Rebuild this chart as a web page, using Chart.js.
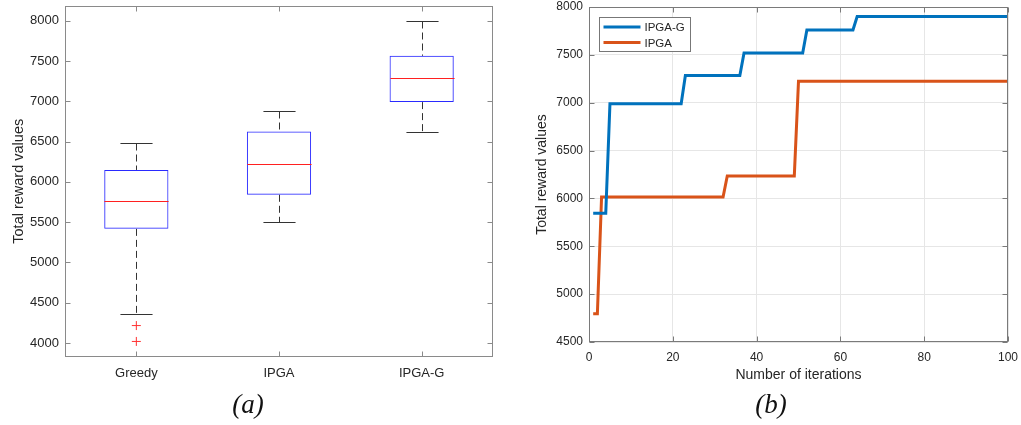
<!DOCTYPE html>
<html>
<head>
<meta charset="utf-8">
<script src="https://cdn.jsdelivr.net/npm/chart.js@4.4.1/dist/chart.umd.min.js"></script>
<style>
  body { margin: 0; background: #fff; width: 1021px; height: 425px; overflow: hidden; position: relative; }
  canvas { position: absolute; top: 0; }
  #boxChart { left: 0; }
  #lineChart { left: 510px; }
  .cap { position: absolute; top: 389px; font-family: "Liberation Serif", "Times New Roman", serif; font-style: italic; font-size: 27px; color: #111; transform: translateX(-50%); }
</style>
</head>
<body>
<canvas id="boxChart" width="510" height="425"></canvas>
<canvas id="lineChart" width="511" height="425"></canvas>
<div class="cap" style="left:248px">(a)</div>
<div class="cap" style="left:771px">(b)</div>
<script>
// (a) box plot
const methods = ['Greedy', 'IPGA', 'IPGA-G']
const whiskerLow = [4357, 5507, 6620]
const q1 = [5417, 5840, 6990]
const medians = [5762, 6226, 7290]
const q3 = [6148, 6624, 7565]
const whiskerHigh = [6485, 6883, 7995]
const outlierMethod = ['Greedy', 'Greedy']
const outlierValues = [4217, 4020]
const boxTicks = [4000, 4500, 5000, 5500, 6000, 6500, 7000, 7500, 8000]

// (b) convergence curves
const iterTicks = [0, 20, 40, 60, 80, 100]
const rewardTicks = [4500, 5000, 5500, 6000, 6500, 7000, 7500, 8000]
const ipgaGIter = [1, 4, 5, 22, 23, 36, 37, 51, 52, 63, 64, 100]
const ipgaGReward = [5845, 5845, 6990, 6990, 7285, 7285, 7520, 7520, 7760, 7760, 7900, 7900]
const ipgaIter = [1, 2, 3, 32, 33, 49, 50, 100]
const ipgaReward = [4795, 4795, 6015, 6015, 6235, 6235, 7225, 7225]

const font = '"Liberation Sans", Arial, sans-serif'
const textColor = '#262626'

// fixed axis size, no extra room for overhanging labels
const fixSize = (w, h) => (s) => {
  if (w) s.width = w
  if (h) s.height = h
  s.paddingTop = 0
  s.paddingBottom = 0
  s.paddingLeft = 0
  s.paddingRight = 0
}

// box outline on all four sides, ticks pointing inward
const framePlugin = {
  id: 'frame',
  afterDraw(chart, args, opts) {
    const { ctx, chartArea: a, scales } = chart
    const L = Math.round(a.left) + 0.5
    const R = Math.round(a.right) - 0.5
    const T = Math.round(a.top) + 0.5
    const B = Math.round(a.bottom) - 0.5
    ctx.save()
    ctx.strokeStyle = opts.color
    ctx.lineWidth = 1
    ctx.beginPath()
    scales.x.ticks.forEach((t, i) => {
      const px = Math.round(scales.x.getPixelForTick(i)) + 0.5
      ctx.moveTo(px, B); ctx.lineTo(px, B - 5)
      ctx.moveTo(px, T); ctx.lineTo(px, T + 5)
    })
    scales.y.ticks.forEach((t, i) => {
      const py = Math.round(scales.y.getPixelForTick(i)) + 0.5
      ctx.moveTo(L, py); ctx.lineTo(L + 5, py)
      ctx.moveTo(R, py); ctx.lineTo(R - 5, py)
    })
    ctx.stroke()
    ctx.strokeRect(L, T, R - L, B - T)
    ctx.restore()
  },
}

const boxPlotPlugin = {
  id: 'boxPlot',
  afterDatasetsDraw(chart) {
    const { ctx, scales: { x, y } } = chart
    const half = (x.getPixelForValue(1) - x.getPixelForValue(0)) * 0.45 / 2
    const seg = (x1, y1, x2, y2) => {
      ctx.beginPath(); ctx.moveTo(x1, y1); ctx.lineTo(x2, y2); ctx.stroke()
    }
    ctx.save()
    ctx.lineWidth = 1
    methods.forEach((m, i) => {
      const cx = Math.round(x.getPixelForValue(i)) + 0.5
      const yHi = Math.round(y.getPixelForValue(whiskerHigh[i])) + 0.5
      const yLo = Math.round(y.getPixelForValue(whiskerLow[i])) + 0.5
      ctx.strokeStyle = '#333'
      ctx.setLineDash([7, 4])
      seg(cx, yHi, cx, y.getPixelForValue(q3[i]))
      seg(cx, y.getPixelForValue(q1[i]), cx, yLo)
      ctx.setLineDash([])
      seg(cx - half / 2, yHi, cx + half / 2, yHi)
      seg(cx - half / 2, yLo, cx + half / 2, yLo)
      const ym = Math.round(y.getPixelForValue(medians[i])) + 0.5
      ctx.strokeStyle = '#ff2020'
      seg(cx - half, ym, cx + half, ym)
    })
    ctx.restore()
  },
}

const innerLegend = {
  id: 'innerLegend',
  afterDraw(chart) {
    const { ctx, chartArea: a } = chart
    const x0 = Math.round(a.left) + 10.5
    const y0 = Math.round(a.top) + 10.5
    ctx.save()
    ctx.fillStyle = '#fff'
    ctx.fillRect(x0, y0, 91, 34)
    ctx.strokeStyle = '#777'
    ctx.lineWidth = 1
    ctx.strokeRect(x0, y0, 91, 34)
    ctx.font = '11.5px ' + font
    ctx.textBaseline = 'middle'
    chart.data.datasets.forEach((ds, i) => {
      const ly = y0 + 9.5 + i * 15.5
      ctx.strokeStyle = ds.borderColor
      ctx.lineWidth = 3
      ctx.beginPath(); ctx.moveTo(x0 + 4, ly); ctx.lineTo(x0 + 41, ly); ctx.stroke()
      ctx.fillStyle = textColor
      ctx.fillText(ds.label, x0 + 45, ly + 1)
    })
    ctx.restore()
  },
}

new Chart(document.getElementById('boxChart'), {
  type: 'bar',
  data: {
    labels: methods,
    datasets: [
      {
        data: methods.map((m, i) => [q1[i], q3[i]]),
        backgroundColor: 'rgba(0,0,0,0)',
        borderColor: '#2a2aff',
        borderWidth: 1,
        borderSkipped: false,
        barPercentage: 0.45,
        categoryPercentage: 1,
      },
      {
        type: 'line',
        showLine: false,
        data: outlierValues.map((v, i) => ({ x: outlierMethod[i], y: v })),
        pointStyle: 'cross',
        pointRadius: 4.5,
        borderColor: '#ff3030',
        borderWidth: 1,
      },
    ],
  },
  options: {
    responsive: false,
    devicePixelRatio: 1,
    animation: false,
    layout: { padding: { top: 3, right: 17, left: 0, bottom: 0 } },
    plugins: { legend: { display: false }, tooltip: { enabled: false }, frame: { color: '#8a8a8a' } },
    scales: {
      x: {
        grid: { display: false, drawTicks: false },
        border: { display: false },
        ticks: { color: textColor, font: { family: font, size: 13 }, padding: 9 },
        afterFit: fixSize(0, 68),
      },
      y: {
        min: 3827,
        max: 8189,
        grid: { display: false, drawTicks: false },
        border: { display: false },
        afterBuildTicks(s) { s.ticks = boxTicks.map((v) => ({ value: v })) },
        ticks: { color: textColor, font: { family: font, size: 13 }, padding: 6, callback: (v) => String(v) },
        title: { display: true, text: 'Total reward values', color: textColor, font: { family: font, size: 14.5 }, padding: { top: 10, bottom: 0 } },
        afterFit: fixSize(65, 0),
      },
    },
  },
  plugins: [boxPlotPlugin, framePlugin],
})

new Chart(document.getElementById('lineChart'), {
  type: 'line',
  data: {
    datasets: [
      {
        label: 'IPGA-G',
        data: ipgaGIter.map((it, i) => ({ x: it, y: ipgaGReward[i] })),
        borderColor: '#0072BD',
        borderWidth: 3,
        pointRadius: 0,
      },
      {
        label: 'IPGA',
        data: ipgaIter.map((it, i) => ({ x: it, y: ipgaReward[i] })),
        borderColor: '#D95319',
        borderWidth: 3,
        pointRadius: 0,
      },
    ],
  },
  options: {
    responsive: false,
    devicePixelRatio: 1,
    animation: false,
    layout: { padding: { top: 7, right: 13, left: 0, bottom: 0 } },
    plugins: { legend: { display: false }, tooltip: { enabled: false }, frame: { color: '#7a7a7a' } },
    scales: {
      x: {
        type: 'linear',
        min: 0,
        max: 100,
        grid: { color: '#e6e6e6', drawTicks: false },
        border: { display: false },
        afterBuildTicks(s) { s.ticks = iterTicks.map((v) => ({ value: v })) },
        ticks: { color: textColor, font: { family: font, size: 12 }, padding: 8, callback: (v) => String(v) },
        title: { display: true, text: 'Number of iterations', color: textColor, font: { family: font, size: 14 }, padding: { top: 0, bottom: 41 } },
        afterFit: fixSize(0, 83),
      },
      y: {
        min: 4500,
        max: 8000,
        grid: { color: '#e6e6e6', drawTicks: false },
        border: { display: false },
        afterBuildTicks(s) { s.ticks = rewardTicks.map((v) => ({ value: v })) },
        ticks: { color: textColor, font: { family: font, size: 12 }, padding: 6, callback: (v) => String(v) },
        title: { display: true, text: 'Total reward values', color: textColor, font: { family: font, size: 14 }, padding: { top: 24, bottom: 0 } },
        afterFit: fixSize(79, 0),
      },
    },
  },
  plugins: [framePlugin, innerLegend],
})
</script>
</body>
</html>
